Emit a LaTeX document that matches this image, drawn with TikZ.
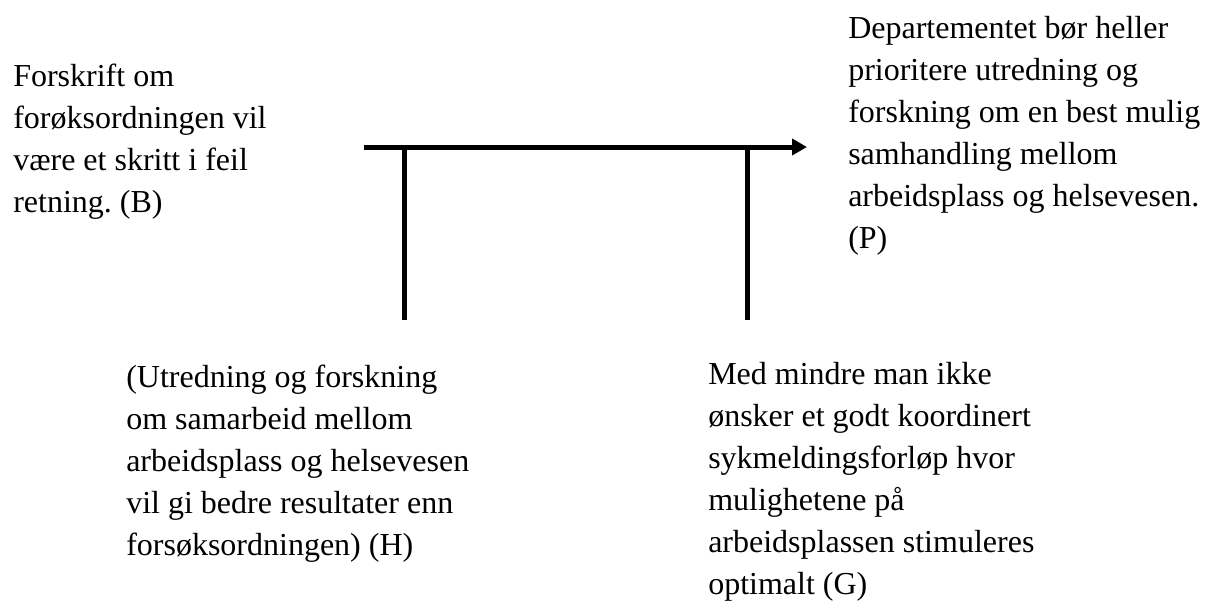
\documentclass[tikz,border=0pt]{standalone}
\usepackage{fontspec}
\setmainfont{Liberation Serif}
\usetikzlibrary{arrows.meta}
\frenchspacing

\begin{document}
\begin{tikzpicture}[x=0.75pt,y=-0.75pt,
  txt/.style={anchor=base west,inner sep=0pt,align=left,font=\fontsize{24}{31.5}\selectfont},
  bar/.style={black,line width=3.75pt}]
\useasboundingbox (0,0) rectangle (1212,601);
\node [txt] (b) at (13,212) {Forskrift om\\forøksordningen vil\\være et skritt i feil\\retning. (B)};
\node [txt] (p) at (848,248) {Departementet bør heller\\prioritere utredning og\\forskning om en best mulig\\samhandling mellom\\arbeidsplass og helsevesen.\\(P)};
\node [txt] (h) at (126,555) {(Utredning og forskning\\om samarbeid mellom\\arbeidsplass og helsevesen\\vil gi bedre resultater enn\\forsøksordningen) (H)};
\node [txt] (g) at (708,594) {Med mindre man ikke\\ønsker et godt koordinert\\sykmeldingsforløp hvor\\mulighetene på\\arbeidsplassen stimuleres\\optimalt (G)};
\coordinate (ds) at (364,147);
\coordinate (ce) at (807,147);
\coordinate (wt) at (404,147);
\coordinate (wb) at (404,320);
\coordinate (rt) at (747,147);
\coordinate (rb) at (747,320);
\draw [bar,-{Triangle[length=11.25pt,width=12pt]}] (ds) -- (ce);
\draw [bar] (wt) -- (wb);
\draw [bar] (rt) -- (rb);
\end{tikzpicture}
\end{document}
